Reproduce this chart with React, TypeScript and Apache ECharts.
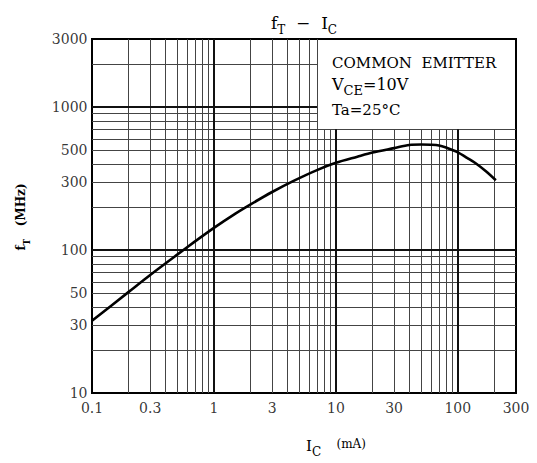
import React, { useEffect, useRef } from "react";
import * as echarts from "echarts";

// Collector current IC (mA) and transition frequency fT (MHz)
const icValues = [0.1, 0.2, 0.3, 0.5, 0.7, 1, 1.5, 2, 3, 4.5, 7, 10, 15, 20, 30, 40, 50, 60, 70, 80, 100, 120, 140, 170, 205];
const ftValues = [32, 51, 67, 93, 115, 143, 180, 209, 255, 305, 363, 408, 450, 481, 517, 544, 548, 546, 540, 522, 483, 440, 405, 356, 308];

const xTickValues = [0.1, 0.3, 1, 3, 10, 30, 100, 300];
const xTickLabels = ["0.1", "0.3", "1", "3", "10", "30", "100", "300"];
const yTickValues = [10, 30, 50, 100, 300, 500, 1000, 3000];
const yTickLabels = ["10", "30", "50", "100", "300", "500", "1000", "3000"];

const xGridMinor = [0.2, 0.3, 0.4, 0.5, 0.6, 0.7, 0.8, 0.9, 2, 3, 4, 5, 6, 7, 8, 9, 20, 30, 40, 50, 60, 70, 80, 90, 200];
const xGridMajor = [1, 10, 100];
const yGridMinor = [20, 30, 40, 50, 60, 70, 80, 90, 200, 300, 400, 500, 600, 700, 800, 900, 2000];
const yGridMajor = [100, 1000];

const xMin = 0.1;
const xMax = 300;
const yMin = 10;
const yMax = 3000;
// legend box corner (grid lines are cut off above/right of it)
const boxCornerX = 7;
const boxCornerY = 700;

const FONT = '"DejaVu Serif", "Liberation Serif", serif';

export default function App() {
  const ref = useRef<HTMLDivElement>(null);
  useEffect(() => {
    if (!ref.current) return;
    const chart = echarts.init(ref.current, undefined, { renderer: "svg" });

    const minorStyle = { color: "#444", width: 1, type: "solid" as const };
    const majorStyle = { color: "#111", width: 2, type: "solid" as const };

    const vLine = (x: number, style: any) => [
      { coord: [x, yMin], lineStyle: style },
      { coord: [x, x > boxCornerX ? boxCornerY : yMax] },
    ];
    const hLine = (y: number, style: any) => [
      { coord: [xMin, y], lineStyle: style },
      { coord: [y > boxCornerY ? boxCornerX : xMax, y] },
    ];

    const gridLines = [
      ...xGridMinor.map((x) => vLine(x, minorStyle)),
      ...yGridMinor.map((y) => hLine(y, minorStyle)),
      ...xGridMajor.map((x) => vLine(x, majorStyle)),
      ...yGridMajor.map((y) => hLine(y, majorStyle)),
    ];

    const option: any = {
      animation: false,
      grid: {
        left: 92,
        right: 21,
        top: 39,
        bottom: 70,
        show: true,
        borderColor: "#000",
        borderWidth: 2,
        backgroundColor: "transparent",
      },
      xAxis: {
        type: "log",
        logBase: 10,
        min: xMin,
        max: xMax,
        axisLine: { show: false },
        axisTick: { show: false },
        axisLabel: { show: false },
        splitLine: { show: false },
      },
      yAxis: {
        type: "log",
        logBase: 10,
        min: yMin,
        max: yMax,
        axisLine: { show: false },
        axisTick: { show: false },
        axisLabel: { show: false },
        splitLine: { show: false },
      },
      series: [
        {
          type: "line",
          data: icValues.map((x, i) => [x, ftValues[i]]),
          smooth: 0.3,
          symbol: "none",
          z: 3,
          lineStyle: { color: "#000", width: 2.6 },
          markLine: {
            silent: true,
            z: 1,
            symbol: ["none", "none"],
            label: { show: false },
            emphasis: { disabled: true },
            data: gridLines,
          },
        },
        {
          type: "scatter",
          clip: false,
          silent: true,
          symbolSize: 1,
          itemStyle: { color: "rgba(0,0,0,0)" },
          data: xTickValues.map((v, i) => ({ name: xTickLabels[i], value: [v, yMin] })),
          label: {
            show: true,
            position: "bottom",
            distance: 7,
            formatter: "{b}",
            color: "#000",
            fontFamily: FONT,
            fontSize: 14,
          },
        },
        {
          type: "scatter",
          clip: false,
          silent: true,
          symbolSize: 1,
          itemStyle: { color: "rgba(0,0,0,0)" },
          data: yTickValues.map((v, i) => ({ name: yTickLabels[i], value: [xMin, v] })),
          label: {
            show: true,
            position: "left",
            distance: 4,
            formatter: "{b}",
            color: "#000",
            fontFamily: FONT,
            fontSize: 14,
          },
        },
      ],
      graphic: [
        {
          type: "text",
          x: 304,
          y: 14,
          style: {
            text: "{n|f}{s|T}{n|  −  I}{s|C}",
            align: "center",
            verticalAlign: "top",
            fill: "#000",
            rich: {
              n: { fontFamily: FONT, fontSize: 17, lineHeight: 22, verticalAlign: "top", fill: "#000" },
              s: { fontFamily: FONT, fontSize: 12, lineHeight: 22, verticalAlign: "bottom", fill: "#000" },
            },
          },
        },
        {
          type: "text",
          x: 332,
          y: 63,
          style: {
            text: "COMMON  EMITTER",
            fontFamily: FONT,
            fontSize: 15,
            fill: "#000",
            verticalAlign: "middle",
          },
        },
        {
          type: "text",
          x: 332,
          y: 76,
          style: {
            text: "{n|V}{s|CE}{n|=10V}",
            verticalAlign: "top",
            fill: "#000",
            rich: {
              n: { fontFamily: FONT, fontSize: 16, lineHeight: 21, verticalAlign: "top", fill: "#000" },
              s: { fontFamily: FONT, fontSize: 13, lineHeight: 21, verticalAlign: "bottom", fill: "#000" },
            },
          },
        },
        {
          type: "text",
          x: 332,
          y: 110,
          style: {
            text: "Ta=25°C",
            fontFamily: FONT,
            fontSize: 15,
            fill: "#000",
            verticalAlign: "middle",
          },
        },
        {
          type: "text",
          x: 23,
          y: 217,
          rotation: Math.PI / 2,
          style: {
            text: "{n|f}{s|T}{n|   (MHz)}",
            align: "center",
            verticalAlign: "middle",
            fill: "#000",
            rich: {
              n: { fontFamily: FONT, fontSize: 12, fontWeight: "bold", lineHeight: 16, verticalAlign: "top", fill: "#000" },
              s: { fontFamily: FONT, fontSize: 9, fontWeight: "bold", lineHeight: 16, verticalAlign: "bottom", fill: "#000" },
            },
          },
        },
        {
          type: "text",
          x: 336,
          y: 448,
          style: {
            text: "{n|I}{s|C}{m|    (mA)}",
            align: "center",
            verticalAlign: "middle",
            fill: "#000",
            rich: {
              n: { fontFamily: FONT, fontSize: 15, lineHeight: 20, verticalAlign: "top", fill: "#000" },
              s: { fontFamily: FONT, fontSize: 12, lineHeight: 20, verticalAlign: "bottom", fill: "#000" },
              m: { fontFamily: FONT, fontSize: 12, lineHeight: 20, verticalAlign: "top", fill: "#000" },
            },
          },
        },
      ],
    };

    chart.setOption(option);
    return () => chart.dispose();
  }, []);

  return <div ref={ref} style={{ position: "absolute", left: 0, top: 0, width: 537, height: 463 }} />;
}
